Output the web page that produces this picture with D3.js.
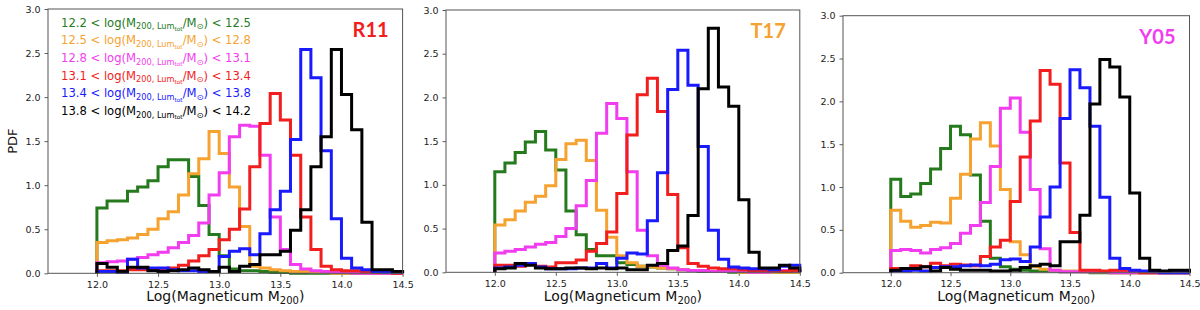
<!DOCTYPE html>
<html>
<head>
<meta charset="utf-8">
<script src="https://cdn.jsdelivr.net/npm/d3@7"></script>
<style>
  html, body { margin: 0; padding: 0; background: #ffffff; }
  svg { display: block; }
</style>
</head>
<body>
<svg id="chart" width="1200" height="310"></svg>
<script>
// ---------------- DATA ----------------
const binEdges = [12.000, 12.083, 12.167, 12.250, 12.333, 12.417, 12.500, 12.583, 12.667, 12.750,
                  12.833, 12.917, 13.000, 13.083, 13.167, 13.250, 13.333, 13.417, 13.500, 13.583,
                  13.667, 13.750, 13.833, 13.917, 14.000, 14.083, 14.167, 14.250, 14.333, 14.417, 14.500];

const xTicks = [12.0, 12.5, 13.0, 13.5, 14.0, 14.5];
const yTicks = [0.0, 0.5, 1.0, 1.5, 2.0, 2.5, 3.0];

const seriesColors = ["#267a1e", "#f5a230", "#f23cf0", "#f21d1d", "#1a1aff", "#000000"];
const rangeLow  = ["12.2", "12.5", "12.8", "13.1", "13.4", "13.8"];
const rangeHigh = ["12.5", "12.8", "13.1", "13.4", "13.8", "14.2"];

const panelNames  = ["R11", "T17", "Y05"];
const panelColors = ["#f21d1d", "#f5a230", "#f23cf0"];

// R11
const r11Green   = [0.74, 0.82, 0.82, 0.93, 0.98, 1.05, 1.21, 1.29, 1.29, 1.10, 0.77, 0.44, 0.20, 0.05, 0.03, 0.03, 0.02, 0.01, 0.01, 0.00, 0.00, 0.00, 0.00, 0.00, 0.00, 0.00, 0.00, 0.00, 0.00, 0.00];
const r11Orange  = [0.35, 0.37, 0.38, 0.40, 0.44, 0.50, 0.62, 0.70, 0.89, 1.13, 1.30, 1.61, 1.36, 0.98, 0.53, 0.08, 0.06, 0.04, 0.03, 0.02, 0.02, 0.01, 0.01, 0.00, 0.00, 0.00, 0.00, 0.00, 0.00, 0.00];
const r11Magenta = [0.12, 0.13, 0.14, 0.16, 0.18, 0.21, 0.24, 0.29, 0.35, 0.43, 0.57, 0.89, 1.14, 1.55, 1.68, 1.67, 1.34, 0.64, 0.27, 0.10, 0.05, 0.03, 0.02, 0.01, 0.01, 0.00, 0.00, 0.00, 0.00, 0.00];
const r11Red     = [0.03, 0.03, 0.03, 0.04, 0.04, 0.05, 0.05, 0.06, 0.09, 0.14, 0.20, 0.27, 0.38, 0.50, 0.73, 1.21, 1.70, 2.04, 1.74, 1.34, 0.64, 0.27, 0.08, 0.04, 0.03, 0.03, 0.02, 0.01, 0.01, 0.00];
const r11Blue    = [0.02, 0.02, 0.01, 0.16, 0.06, 0.06, 0.06, 0.04, 0.03, 0.03, 0.02, 0.02, 0.19, 0.25, 0.28, 0.21, 0.45, 0.72, 0.93, 1.52, 2.54, 2.22, 1.39, 0.62, 0.17, 0.06, 0.04, 0.02, 0.01, 0.01];
const r11Black   = [0.11, 0.07, 0.02, 0.07, 0.07, 0.03, 0.02, 0.03, 0.04, 0.06, 0.04, 0.02, 0.07, 0.02, 0.08, 0.10, 0.21, 0.21, 0.25, 0.49, 0.72, 1.21, 1.55, 2.54, 2.03, 1.63, 0.58, 0.04, 0.04, 0.02];

// T17
const t17Green   = [1.15, 1.25, 1.37, 1.49, 1.61, 1.40, 1.17, 0.70, 0.43, 0.26, 0.19, 0.19, 0.11, 0.09, 0.07, 0.06, 0.05, 0.04, 0.03, 0.02, 0.01, 0.01, 0.01, 0.00, 0.00, 0.00, 0.00, 0.00, 0.00, 0.00];
const t17Orange  = [0.54, 0.60, 0.70, 0.80, 0.87, 0.99, 1.29, 1.47, 1.51, 1.28, 0.71, 0.40, 0.19, 0.11, 0.07, 0.06, 0.05, 0.04, 0.03, 0.02, 0.02, 0.01, 0.01, 0.01, 0.00, 0.00, 0.00, 0.00, 0.00, 0.00];
const t17Magenta = [0.22, 0.24, 0.26, 0.29, 0.32, 0.34, 0.41, 0.50, 0.76, 1.05, 1.59, 1.93, 1.76, 1.15, 0.48, 0.19, 0.08, 0.05, 0.03, 0.02, 0.02, 0.01, 0.01, 0.01, 0.01, 0.00, 0.00, 0.01, 0.02, 0.01];
const t17Red     = [0.08, 0.08, 0.07, 0.09, 0.07, 0.06, 0.11, 0.11, 0.14, 0.24, 0.33, 0.46, 0.90, 1.57, 2.03, 2.22, 1.84, 0.89, 0.28, 0.10, 0.07, 0.05, 0.04, 0.04, 0.03, 0.02, 0.02, 0.02, 0.01, 0.02];
const t17Blue    = [0.05, 0.06, 0.08, 0.10, 0.06, 0.04, 0.04, 0.04, 0.05, 0.05, 0.10, 0.05, 0.16, 0.22, 0.21, 0.59, 1.14, 2.09, 2.54, 2.14, 1.44, 0.48, 0.15, 0.06, 0.05, 0.04, 0.04, 0.03, 0.07, 0.08];
const t17Black   = [0.04, 0.05, 0.10, 0.08, 0.05, 0.04, 0.04, 0.05, 0.05, 0.04, 0.05, 0.04, 0.05, 0.03, 0.03, 0.08, 0.10, 0.25, 0.30, 0.65, 2.10, 2.79, 2.12, 1.90, 0.83, 0.23, 0.05, 0.05, 0.08, 0.05];

// Y05
const y05Green   = [1.09, 0.89, 0.92, 1.04, 1.21, 1.45, 1.71, 1.61, 1.14, 0.60, 0.17, 0.07, 0.04, 0.03, 0.02, 0.02, 0.02, 0.01, 0.01, 0.01, 0.00, 0.00, 0.00, 0.00, 0.00, 0.00, 0.00, 0.00, 0.00, 0.00];
const y05Orange  = [0.73, 0.60, 0.53, 0.55, 0.59, 0.58, 0.87, 1.15, 1.56, 1.75, 1.48, 0.97, 0.36, 0.21, 0.07, 0.04, 0.03, 0.02, 0.02, 0.01, 0.01, 0.01, 0.00, 0.00, 0.00, 0.00, 0.00, 0.00, 0.00, 0.00];
const y05Magenta = [0.26, 0.27, 0.26, 0.23, 0.27, 0.29, 0.34, 0.46, 0.55, 0.82, 1.24, 1.92, 2.04, 1.64, 0.97, 0.28, 0.03, 0.01, 0.01, 0.01, 0.01, 0.01, 0.00, 0.00, 0.00, 0.00, 0.00, 0.00, 0.00, 0.00];
const y05Red     = [0.05, 0.04, 0.08, 0.07, 0.11, 0.08, 0.10, 0.09, 0.08, 0.19, 0.30, 0.38, 0.83, 1.35, 1.77, 2.36, 2.20, 1.28, 0.47, 0.03, 0.03, 0.02, 0.03, 0.03, 0.02, 0.00, 0.00, 0.00, 0.00, 0.00];
const y05Blue    = [0.02, 0.02, 0.03, 0.02, 0.06, 0.07, 0.07, 0.08, 0.09, 0.08, 0.10, 0.15, 0.16, 0.13, 0.30, 0.65, 1.00, 1.80, 2.37, 2.16, 1.71, 0.88, 0.17, 0.05, 0.03, 0.02, 0.01, 0.00, 0.00, 0.00];
const y05Black   = [0.03, 0.05, 0.05, 0.07, 0.02, 0.06, 0.04, 0.03, 0.03, 0.03, 0.02, 0.02, 0.03, 0.06, 0.08, 0.10, 0.08, 0.36, 0.36, 0.67, 1.97, 2.49, 2.40, 2.05, 0.93, 0.17, 0.03, 0.02, 0.03, 0.03];

const panelSeries = [
  [r11Green, r11Orange, r11Magenta, r11Red, r11Blue, r11Black],
  [t17Green, t17Orange, t17Magenta, t17Red, t17Blue, t17Black],
  [y05Green, y05Orange, y05Magenta, y05Red, y05Blue, y05Black]
];

// ---------------- LAYOUT ----------------
const layouts = [
  { left: 48,  right: 402.6,  top: 9,    bottom: 273.3 },
  { left: 446, right: 799.8,  top: 10,   bottom: 272.3 },
  { left: 843, right: 1189.5, top: 15.7, bottom: 272.7 }
];

const FONT = "'DejaVu Sans', sans-serif";
const svg = d3.select("#chart");

layouts.forEach((L, p) => {
  const x = d3.scaleLinear().domain([11.6, 14.5]).range([L.left, L.right]);
  const y = d3.scaleLinear().domain([0, 3.0]).range([L.bottom, L.top]);
  const g = svg.append("g");

  // axes
  const xAxis = d3.axisBottom(x).tickValues(xTicks).tickFormat(d3.format(".1f")).tickSizeOuter(0).tickSize(3.5).tickPadding(4);
  const yAxis = d3.axisLeft(y).tickValues(yTicks).tickFormat(d3.format(".1f")).tickSizeOuter(0).tickSize(3.5).tickPadding(4);
  const gx = g.append("g").attr("transform", `translate(0,${L.bottom})`).call(xAxis);
  const gy = g.append("g").attr("transform", `translate(${L.left},0)`).call(yAxis);
  [gx, gy].forEach(a => {
    a.select(".domain").remove();
    a.selectAll(".tick line").attr("stroke", "#333").attr("stroke-width", 0.8);
    a.selectAll(".tick text").attr("font-family", FONT).attr("font-size", 9.5).attr("fill", "#222");
  });

  // histograms (step)
  const line = d3.line().x(d => x(d[0])).y(d => y(d[1]));
  panelSeries[p].forEach((vals, s) => {
    const pts = [[binEdges[0], 0]];
    vals.forEach((v, i) => { pts.push([binEdges[i], v]); pts.push([binEdges[i + 1], v]); });
    pts.push([binEdges[binEdges.length - 1], 0]);
    g.append("path")
      .attr("d", line(pts))
      .attr("fill", "none")
      .attr("stroke", seriesColors[s])
      .attr("stroke-width", 3)
      .attr("stroke-linejoin", "miter");
  });

  // frame
  g.append("rect")
    .attr("x", L.left).attr("y", L.top)
    .attr("width", L.right - L.left).attr("height", L.bottom - L.top)
    .attr("fill", "none").attr("stroke", "#555").attr("stroke-width", 1);

  // panel name
  g.append("text")
    .attr("x", L.right - 14).attr("y", L.top + 28)
    .attr("text-anchor", "end")
    .attr("font-family", "Lato, 'Open Sans', sans-serif")
    .attr("font-weight", 700)
    .attr("font-size", 20)
    .attr("fill", panelColors[p])
    .text(panelNames[p]);

  // x label
  const xl = g.append("text")
    .attr("x", (L.left + L.right) / 2).attr("y", 301)
    .attr("text-anchor", "middle")
    .attr("font-family", FONT).attr("font-size", 14).attr("fill", "#111");
  xl.append("tspan").text("Log(Magneticum M");
  xl.append("tspan").attr("font-size", 10).attr("dy", 3).text("200");
  xl.append("tspan").attr("dy", -3).text(")");

  if (p === 0) {
    g.append("text")
      .attr("transform", `translate(17,${(L.top + L.bottom) / 2}) rotate(-90)`)
      .attr("text-anchor", "middle")
      .attr("font-family", FONT).attr("font-size", 13).attr("fill", "#111")
      .text("PDF");

    // legend
    rangeLow.forEach((lo, i) => {
      const t = g.append("text")
        .attr("x", 61).attr("y", 26.7 + i * 17.66)
        .attr("font-family", FONT).attr("font-size", 11.6)
        .attr("fill", seriesColors[i]);
      t.append("tspan").text(lo + " < log(M");
      t.append("tspan").attr("font-size", 8.2).attr("dy", 2.6).text("200, Lum");
      t.append("tspan").attr("font-size", 5.8).attr("dy", 1.6).text("tot");
      t.append("tspan").attr("font-size", 11.6).attr("dy", -4.2).text("/M");
      t.append("tspan").attr("font-size", 8.2).attr("dy", 2.6).text("\u2299");
      t.append("tspan").attr("font-size", 11.6).attr("dy", -2.6).text(") < " + rangeHigh[i]);
    });
  }
});
</script>
</body>
</html>
